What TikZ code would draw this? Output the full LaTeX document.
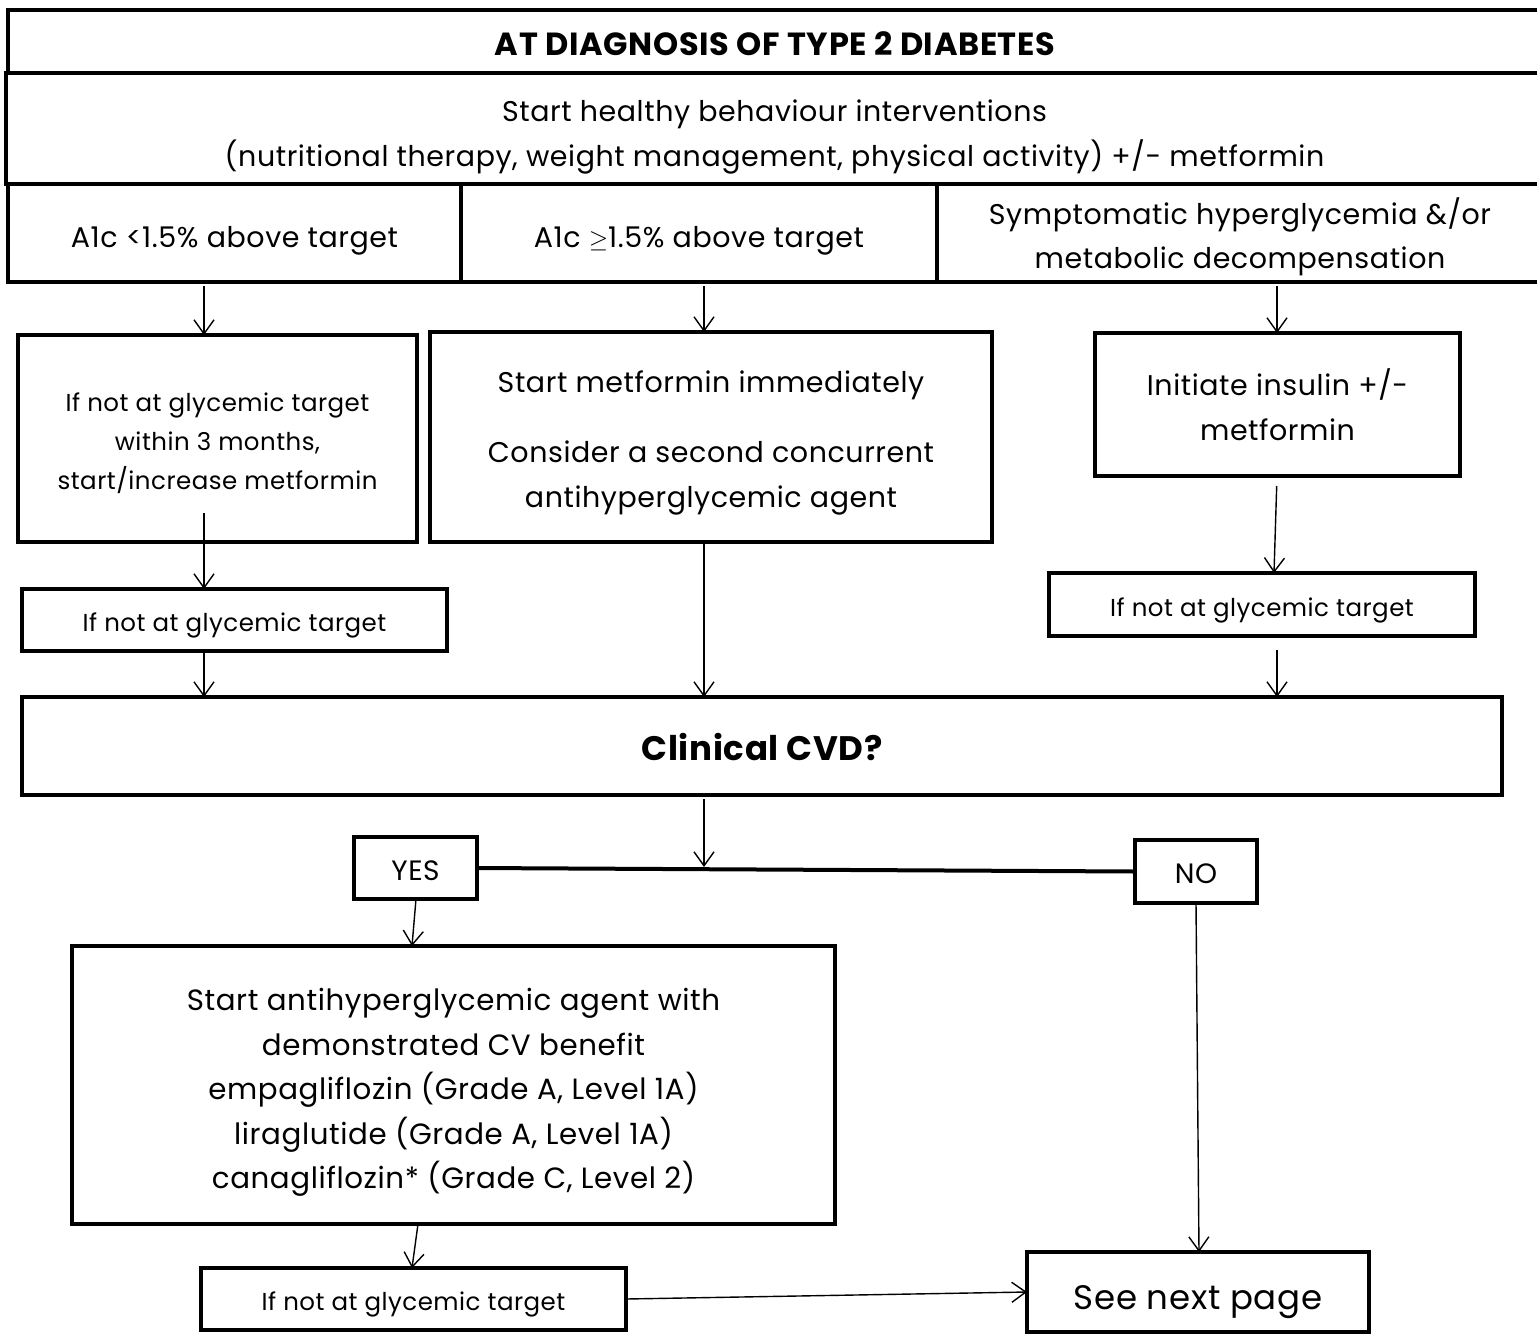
\documentclass[tikz,border=0pt]{standalone}
\usepackage{fontspec}
\setmainfont{Poppins}[LetterSpace=2]
\usetikzlibrary{arrows.meta}
\newcommand\tx[2][6pt]{\raisebox{-#1}[\height][\depth]{\begin{tabular}{@{}c@{}}#2\end{tabular}}}
\begin{document}
\begin{tikzpicture}[x=1pt,y=-1pt,
  cell/.style={draw, line width=4pt, inner sep=0pt, outer sep=0pt, align=center},
  abox/.style={draw, line width=4.5pt, inner sep=0pt, outer sep=0pt, align=center},
  arr/.style={line width=1.4pt, -{Straight Barb[length=14pt,width=20pt,line width=1.4pt]}},
  fA/.style={font=\fontsize{28.5}{45}\selectfont},
  fB/.style={font=\fontsize{24.5}{39}\selectfont},
  fT/.style={font=\fontsize{32}{36}\selectfont\bfseries},
]
\useasboundingbox (0,0) rectangle (1537,1334);
% header
\node[cell, fT, minimum width=1534pt, minimum height=63pt] (title) at (775,41.5) {\tx[7pt]{AT DIAGNOSIS OF TYPE 2 DIABETES}};
\node[cell, fA, minimum width=1537pt, minimum height=111pt] (start) at (774.5,128.5) {\tx[6pt]{Start healthy behaviour interventions\\(nutritional therapy, weight management, physical activity) +/- metformin}};
\node[cell, fA, minimum width=453pt, minimum height=98pt] (c1) at (234.5,233) {\tx[5pt]{A1c <1.5\% above target}};
\node[cell, fA, minimum width=476pt, minimum height=98pt] (c2) at (699,233) {\tx[5pt]{A1c $\geq$1.5\% above target}};
\node[cell, minimum width=606pt, minimum height=98pt, font=\fontsize{28.5}{44}\selectfont] (c3) at (1240,233) {\tx[5pt]{Symptomatic hyperglycemia \&/or\\metabolic decompensation}};
% second level
\node[abox, fB, minimum width=399pt, minimum height=207pt] (b1) at (217.5,438.5) {\tx[4pt]{If not at glycemic target\\within 3 months,\\start/increase metformin}};
\node[abox, minimum width=562pt, minimum height=210pt, font=\fontsize{28.5}{45}\selectfont] (b2) at (711,437) {\tx[4pt]{Start metformin immediately\\[25pt]Consider a second concurrent\\antihyperglycemic agent}};
\node[abox, fA, minimum width=365pt, minimum height=143pt] (b3) at (1277.5,404.5) {\tx[4pt]{Initiate insulin +/-\\metformin}};
\node[abox, fB, minimum width=425pt, minimum height=62pt] (b1t) at (234.5,620) {\tx[4pt]{If not at glycemic target}};
\node[abox, fB, minimum width=426pt, minimum height=63pt] (b3t) at (1262,604.5) {\tx[4pt]{If not at glycemic target}};
% CVD
\node[abox, font=\fontsize{34}{38}\selectfont\bfseries, minimum width=1480pt, minimum height=98pt] (cvd) at (762,746) {\tx[7pt]{Clinical CVD?}};
\node[abox, font=\fontsize{28}{32}\selectfont, minimum width=123pt, minimum height=62pt] (yes) at (415.5,868) {\tx[6pt]{YES}};
\node[abox, font=\fontsize{28}{32}\selectfont, minimum width=122pt, minimum height=63pt] (no) at (1196,871.5) {\tx[6pt]{NO}};
\node[abox, font=\fontsize{29.3}{44.5}\selectfont, minimum width=763pt, minimum height=278pt] (big) at (453.5,1085) {\tx[6pt]{Start antihyperglycemic agent with\\demonstrated CV benefit\\empagliflozin (Grade A, Level 1A)\\liraglutide (Grade A, Level 1A)\\canagliflozin* (Grade C, Level 2)}};
\node[abox, fB, minimum width=425pt, minimum height=62pt] (bl) at (413.5,1299) {\tx[4pt]{If not at glycemic target}};
\node[abox, font=\fontsize{34}{38}\selectfont, minimum width=342pt, minimum height=80pt] (snp) at (1198,1292) {\tx[10pt]{See next page}};
% arrow x positions
\coordinate (xa) at (204,0);
\coordinate (xb) at (704,0);
\coordinate (xc) at (1277,0);
% arrows
\draw[arr, shorten <=4pt] (c1.south -| xa) -- (b1.north -| xa);
\draw[arr, shorten <=4pt] (c2.south -| xb) -- (b2.north -| xb);
\draw[arr, shorten <=4pt] (c3.south -| xc) -- (b3.north -| xc);
\draw[arr] ([yshift=29pt]b1.south -| xa) -- (b1t.north -| xa);
\draw[arr] (b1t.south -| xa) -- (cvd.north -| xa);
\draw[arr] (b2.south -| xb) -- (cvd.north -| xb);
\coordinate (xc2) at (1274,0);
\draw[arr, shorten <=10pt] (b3.south -| xc) -- (b3t.north -| xc2);
\draw[arr, shorten <=14pt] (b3t.south -| xc) -- (cvd.north -| xc);
% decision line
\draw[line width=4pt] (yes.east) -- (no.west);
\coordinate (ynl) at (704,867);
\draw[arr, shorten <=4pt] (cvd.south -| xb) -- (ynl);
\coordinate (xy1) at (416,0);
\coordinate (xy2) at (412,0);
\draw[arr] (yes.south -| xy1) -- (big.north -| xy2);
\coordinate (xy3) at (418,0);
\draw[arr] (big.south -| xy3) -- (bl.north -| xy2);
\draw[arr] (bl.east) -- (snp.west);
\coordinate (xn1) at (1196,0);
\coordinate (xn2) at (1199,0);
\draw[arr] (no.south -| xn1) -- (snp.north -| xn2);
\end{tikzpicture}
\end{document}
